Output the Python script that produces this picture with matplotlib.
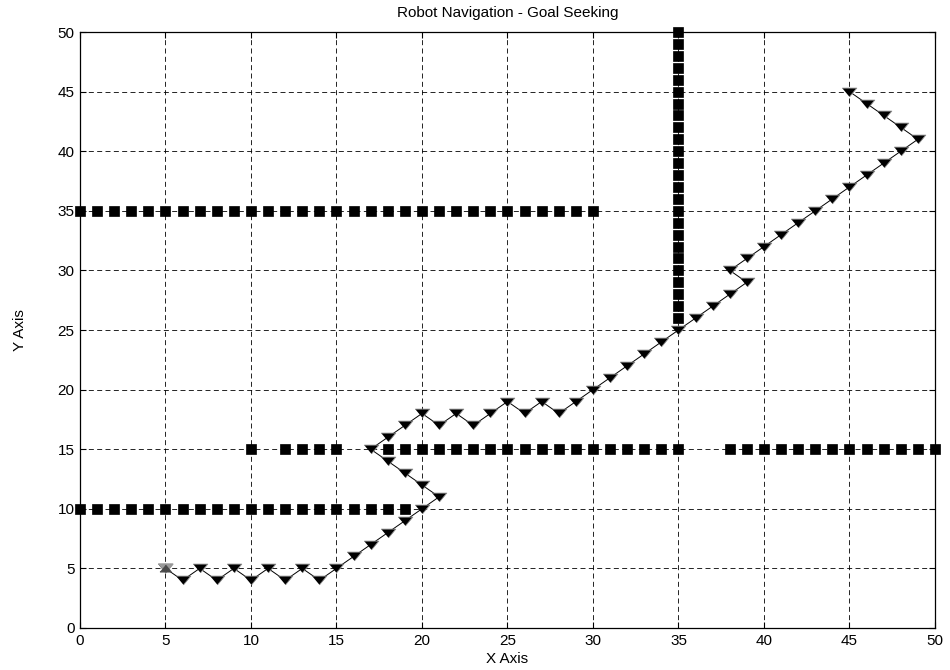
import matplotlib
matplotlib.use('Agg')
import matplotlib.pyplot as plt

plt.rcParams['font.family'] = ['Liberation Sans', 'DejaVu Sans']

# robot path (goal seeking), start at (5,5), goal at (45,45)
path_x = [5, 6, 7, 8, 9, 10, 11, 12, 13, 14, 15, 16, 17, 18, 19, 20, 21, 20, 19, 18,
          17, 18, 19, 20, 21, 22, 23, 24, 25, 26, 27, 28, 29, 30, 31, 32, 33, 34, 35, 36,
          37, 38, 39, 38, 39, 40, 41, 42, 43, 44, 45, 46, 47, 48, 49, 48, 47, 46, 45]
path_y = [5, 4, 5, 4, 5, 4, 5, 4, 5, 4, 5, 6, 7, 8, 9, 10, 11, 12, 13, 14,
          15, 16, 17, 18, 17, 18, 17, 18, 19, 18, 19, 18, 19, 20, 21, 22, 23, 24, 25, 26,
          27, 28, 29, 30, 31, 32, 33, 34, 35, 36, 37, 38, 39, 40, 41, 42, 43, 44, 45]

# obstacles
wall_a_x = [0, 1, 2, 3, 4, 5, 6, 7, 8, 9, 10, 11, 12, 13, 14, 15, 16, 17, 18, 19]
wall_a_y = [10] * len(wall_a_x)

wall_b_x = [0, 1, 2, 3, 4, 5, 6, 7, 8, 9, 10, 11, 12, 13, 14, 15, 16, 17, 18, 19,
            20, 21, 22, 23, 24, 25, 26, 27, 28, 29, 30]
wall_b_y = [35] * len(wall_b_x)

wall_c_x = [10, 12, 13, 14, 15, 18, 19, 20, 21, 22, 23, 24, 25, 26, 27, 28, 29, 30,
            31, 32, 33, 34, 35, 38, 39, 40, 41, 42, 43, 44, 45, 46, 47, 48, 49, 50]
wall_c_y = [15] * len(wall_c_x)

wall_d_y = [26, 27, 28, 29, 30, 31, 32, 33, 34, 35, 36, 37, 38, 39, 40, 41, 42, 43,
            44, 45, 46, 47, 48, 49, 50]
wall_d_x = [35] * len(wall_d_y)

ticks = [0, 5, 10, 15, 20, 25, 30, 35, 40, 45, 50]

tri = [(-1, 0.6), (1, 0.6), (0, -0.6)]
tri_up = [(-1, -0.6), (1, -0.6), (0, 0.6)]

fig = plt.figure(figsize=(9.5, 6.7), dpi=100)
ax = fig.add_axes([0.0842, 0.0627, 0.9, 0.8895])

for wx, wy in [(wall_a_x, wall_a_y), (wall_b_x, wall_b_y),
               (wall_c_x, wall_c_y), (wall_d_x, wall_d_y)]:
    ax.plot(wx, wy, linestyle='none', marker='s', ms=7.4, mfc='k', mec='k',
            mew=0.5, clip_on=False, zorder=3)

ax.plot(path_x, path_y, color='k', lw=0.7, marker=tri, ms=10.5,
        mfc='k', mec='#8a8a8a', mew=0.6, zorder=4)
# start marker
ax.plot(path_x[0], path_y[0], linestyle='none', marker=tri, ms=10.5,
        mfc='#9a9a9a', mec='#9a9a9a', zorder=5)
ax.plot(path_x[0], path_y[0], linestyle='none', marker=tri_up, ms=8,
        mfc='#4a4a4a', mec='#4a4a4a', zorder=6)

ax.set_xlim(0, 50)
ax.set_ylim(0, 50)
ax.set_xticks(ticks)
ax.set_yticks(ticks)
ax.grid(True, color='k', linestyle=(0, (6, 4)), linewidth=0.6)
ax.set_axisbelow(True)
ax.tick_params(direction='in', length=4, width=0.8, top=True, right=True,
               labelsize=11, pad=4)
for s in ax.spines.values():
    s.set_linewidth(0.9)

ax.set_title('Robot Navigation - Goal Seeking', fontsize=11, pad=11)
ax.set_xlabel('X Axis', fontsize=11, labelpad=3)
ax.set_ylabel('Y Axis', fontsize=11, labelpad=22)

fig.savefig('out.png', dpi=100)
